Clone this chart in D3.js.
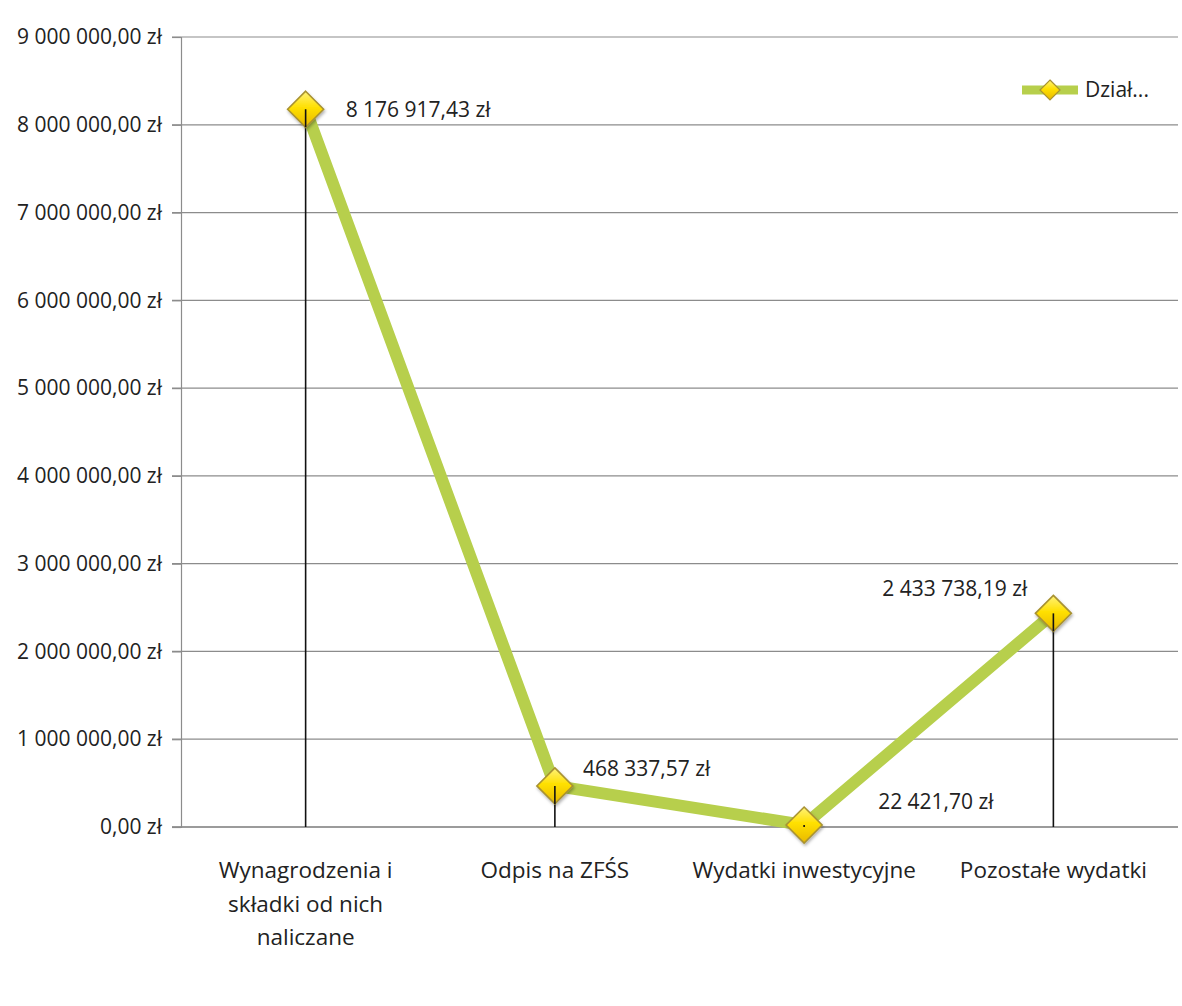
<!DOCTYPE html>
<html lang="pl">
<head>
<meta charset="utf-8">
<script src="https://cdn.jsdelivr.net/npm/d3@7"></script>
<style>
  html, body { margin: 0; padding: 0; background: #fff; }
  svg { display: block; }
  text { font-family: "Open Sans", "Noto Sans", sans-serif; fill: #222; }
</style>
</head>
<body>
<svg id="chart" width="1182" height="1006"></svg>
<script>
// Wydatki działu – kwoty w złotych
const categories = [
  "Wynagrodzenia i\nskładki od nich\nnaliczane",
  "Odpis na ZFŚS",
  "Wydatki inwestycyjne",
  "Pozostałe wydatki"
];
const values = [8176917.43, 468337.57, 22421.70, 2433738.19];
const yTicks = [0, 1000000, 2000000, 3000000, 4000000, 5000000, 6000000, 7000000, 8000000, 9000000];
const seriesName = "Dział...";

// Polish currency format: "8 176 917,43 zł"
const plLocale = d3.formatLocale({
  decimal: ",", thousands: "\u00a0", grouping: [3], currency: ["", " zł"]
});
const fmt = v => plLocale.format(",.2f")(v).replace(/\u00a0/g, " ") + " zł";

const svg = d3.select("#chart");
const margin = { left: 181, right: 4, top: 37, bottom: 179 };
const W = 1182, H = 1006;

const x = d3.scaleBand()
  .domain(categories)
  .range([margin.left, W - margin.right])
  .paddingInner(0).paddingOuter(0);
const y = d3.scaleLinear()
  .domain([0, 9000000])
  .range([H - margin.bottom, margin.top]);

const cx = c => x(c) + x.bandwidth() / 2;

// defs: marker gradient and soft shadow
const defs = svg.append("defs");
const grad = defs.append("linearGradient").attr("id", "mk")
  .attr("x1", "0").attr("y1", "0").attr("x2", "0").attr("y2", "1");
grad.append("stop").attr("offset", "0%").attr("stop-color", "#fff27a");
grad.append("stop").attr("offset", "45%").attr("stop-color", "#ffe000");
grad.append("stop").attr("offset", "100%").attr("stop-color", "#e8b800");
const sh = defs.append("filter").attr("id", "sh")
  .attr("x", "-40%").attr("y", "-40%").attr("width", "180%").attr("height", "180%");
sh.append("feDropShadow").attr("dx", 1).attr("dy", 2).attr("stdDeviation", 1.5)
  .attr("flood-color", "#000").attr("flood-opacity", 0.3);

// horizontal gridlines
svg.append("g").selectAll("line").data(yTicks).join("line")
  .attr("x1", margin.left - 9).attr("x2", W - margin.right)
  .attr("y1", d => y(d)).attr("y2", d => y(d))
  .attr("stroke", "#8c8c8c").attr("stroke-width", 1.2);

// value axis
const yAxis = d3.axisLeft(y).tickValues(yTicks).tickFormat(fmt).tickSize(9).tickPadding(10);
const gy = svg.append("g").attr("transform", `translate(${margin.left},0)`).call(yAxis);
gy.select(".domain").attr("stroke", "#8c8c8c").attr("stroke-width", 1.2);
gy.selectAll(".tick line").attr("stroke", "#8c8c8c").attr("stroke-width", 1.2);
gy.selectAll(".tick text")
  .style("font-family", "'Open Sans', sans-serif").style("font-size", "21px")
  .attr("fill", "#222");

// category axis line
svg.append("line")
  .attr("x1", margin.left - 9).attr("x2", W - margin.right)
  .attr("y1", y(0)).attr("y2", y(0))
  .attr("stroke", "#8c8c8c").attr("stroke-width", 1.4);

// category labels (multi-line)
const catG = svg.append("g").selectAll("text").data(categories).join("text")
  .attr("text-anchor", "middle")
  .attr("x", d => cx(d))
  .attr("y", y(0) + 51)
  .style("font-size", "22.5px");
catG.each(function (d) {
  const lines = d.split("\n");
  d3.select(this).selectAll("tspan").data(lines).join("tspan")
    .attr("x", cx(d))
    .attr("dy", (l, i) => i === 0 ? 0 : 33.5)
    .text(l => l);
});

// drop lines from points to the axis
const pts = categories.map((c, i) => ({ c, v: values[i] }));
svg.append("g").selectAll("line").data(pts).join("line")
  .attr("x1", d => cx(d.c)).attr("x2", d => cx(d.c))
  .attr("y1", d => y(d.v)).attr("y2", y(0))
  .attr("stroke", "#111").attr("stroke-width", 1.6);

// series line
const line = d3.line().x(d => cx(d.c)).y(d => y(d.v));
svg.append("path").datum(pts)
  .attr("d", line)
  .attr("fill", "none")
  .attr("stroke", "#b7cf4c")
  .attr("stroke-width", 12)
  .attr("stroke-linejoin", "round");

// diamond markers
const diamond = r => `M0,${-r}L${r},0L0,${r}L${-r},0Z`;
svg.append("g").selectAll("path").data(pts).join("path")
  .attr("transform", d => `translate(${cx(d.c)},${y(d.v)})`)
  .attr("d", diamond(18))
  .attr("fill", "url(#mk)")
  .attr("stroke", "#a89232")
  .attr("stroke-width", 1.6)
  .attr("filter", "url(#sh)");

// drop lines visible through marker centre
svg.append("g").selectAll("line").data(pts).join("line")
  .attr("x1", d => cx(d.c)).attr("x2", d => cx(d.c))
  .attr("y1", d => y(d.v)).attr("y2", d => Math.min(y(0), y(d.v) + 18))
  .attr("stroke", "#111").attr("stroke-width", 1.6);

// data labels
const labelPos = [
  { dx: 40, dy: 2, anchor: "start" },
  { dx: 28, dy: -16, anchor: "start" },
  { dx: 74, dy: -22, anchor: "start" },
  { dx: -26, dy: -23, anchor: "end" }
];
svg.append("g").selectAll("text").data(pts).join("text")
  .attr("x", (d, i) => cx(d.c) + labelPos[i].dx)
  .attr("y", (d, i) => y(d.v) + labelPos[i].dy)
  .attr("dominant-baseline", "middle")
  .attr("text-anchor", (d, i) => labelPos[i].anchor)
  .style("font-size", "21px")
  .text(d => fmt(d.v));

// legend
const lg = svg.append("g").attr("transform", "translate(1022,90)");
lg.append("line").attr("x1", 0).attr("x2", 56).attr("y1", 0).attr("y2", 0)
  .attr("stroke", "#b7cf4c").attr("stroke-width", 9);
lg.append("path").attr("transform", "translate(28,0)").attr("d", diamond(10))
  .attr("fill", "url(#mk)").attr("stroke", "#a89232").attr("stroke-width", 1.2);
lg.append("text").attr("x", 63).attr("y", 1).attr("dominant-baseline", "middle")
  .style("font-size", "21px").text(seriesName);
</script>
</body>
</html>
